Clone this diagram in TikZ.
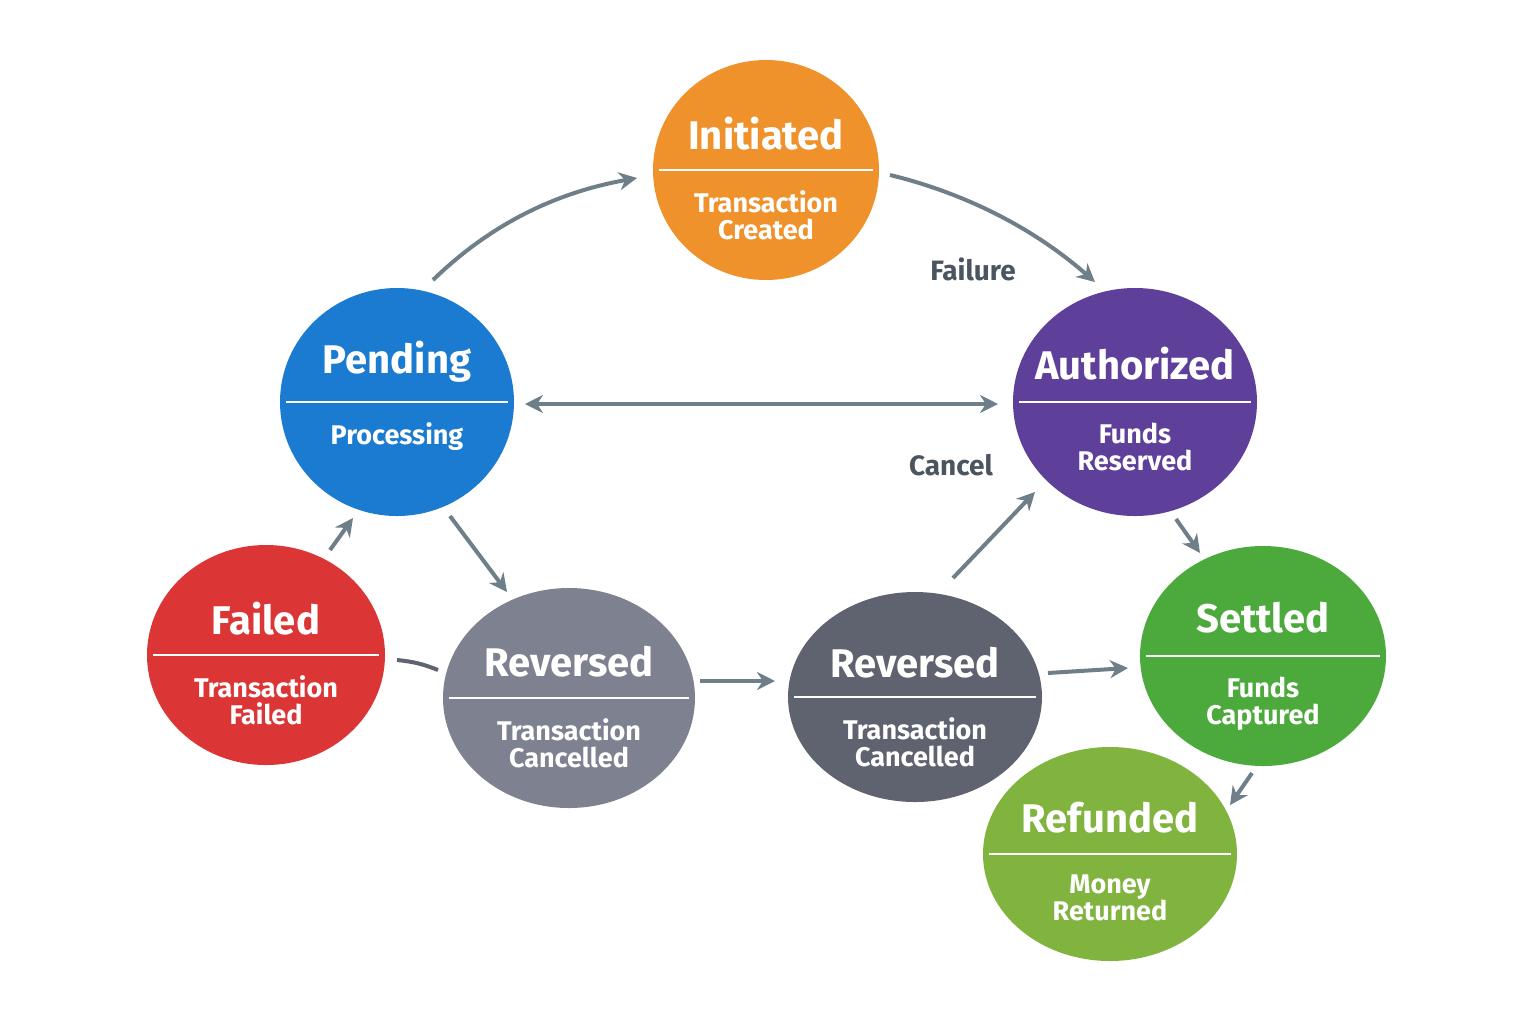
\documentclass[tikz,border=0pt]{standalone}
\usepackage{fontspec}
\setmainfont{Fira Sans}
\usetikzlibrary{shapes.geometric,arrows.meta}
\definecolor{cOr}{HTML}{F0922B}
\definecolor{cBl}{HTML}{1B7BD0}
\definecolor{cPu}{HTML}{5E3F9A}
\definecolor{cRe}{HTML}{DC3535}
\definecolor{cG1}{HTML}{7D8190}
\definecolor{cG2}{HTML}{5F636F}
\definecolor{cGr}{HTML}{4CAA3C}
\definecolor{cLg}{HTML}{80B43E}
\definecolor{cAr}{HTML}{6E7F8A}
\definecolor{cTx}{HTML}{4A5560}
\tikzset{
 st/.style={ellipse,inner sep=0pt,draw=none},
 ttl/.style={text=white,font=\fontsize{20}{22}\selectfont\bfseries},
 sub/.style={text=white,font=\fontsize{13.5}{15.5}\selectfont\bfseries,align=center},
 arr/.style={draw=cAr,line width=2pt,-{Stealth[length=9pt,width=9pt]}},
 lbl/.style={text=cTx,font=\fontsize{14}{16}\selectfont\bfseries}
}
\newcommand{\stnode}[9]{%
 \node[st,fill=#4,minimum width=#5pt,minimum height=#6pt] (#1) at (#2,#3) {};
 \node[ttl] (#1t) at (#2,#3-#9) {#7};
 \draw[white,line width=0.7pt] (#2-#5*0.95,#3) -- (#2+#5*0.95,#3);
 \node[sub,anchor=north] (#1s) at (#2,#3+14) {#8};
}
\begin{document}
\begin{tikzpicture}[x=0.5pt,y=-0.5pt]
\useasboundingbox[fill=white] (0,0) rectangle (1536,1024);
\stnode{ini}{766}{170}{cOr}{113}{110}{Initiated}{Transaction\\[-2pt]Created}{36}
\stnode{pen}{397}{402}{cBl}{117}{114}{Pending}{Processing}{40}
\stnode{aut}{1135}{402}{cPu}{122}{114}{Authorized}{Funds\\[-2pt]Reserved}{38}
\stnode{fai}{266}{655}{cRe}{119}{110}{Failed}{Transaction\\[-2pt]Failed}{36}
\stnode{rv1}{569}{698}{cG1}{126}{110}{Reversed}{Transaction\\[-2pt]Cancelled}{36}
\stnode{rv2}{915}{697}{cG2}{127}{105}{Reversed}{Transaction\\[-2pt]Cancelled}{34}
\stnode{set}{1263}{656}{cGr}{123}{110}{Settled}{Funds\\[-2pt]Captured}{38}
\stnode{ref}{1110}{854}{cLg}{127}{107}{Refunded}{Money\\[-2pt]Returned}{36}
% arrows
\coordinate (a1) at (433,280); \coordinate (a2) at (637,178);
\draw[arr] (a1) .. controls (500,215) and (570,190) .. (a2);
\coordinate (b1) at (890,175); \coordinate (b2) at (1095,282);
\draw[arr] (b1) .. controls (960,192) and (1030,225) .. (b2);
\coordinate (c1) at (525,404); \coordinate (c2) at (998,404);
\draw[arr,{Stealth[length=9pt,width=9pt]}-{Stealth[length=9pt,width=9pt]}] (c1) -- (c2);
\coordinate (d1) at (450,516); \coordinate (d2) at (507,592);
\draw[arr] (d1) -- (d2);
\coordinate (e1) at (330,550); \coordinate (e2) at (353,518);
\draw[arr] (e1) -- (e2);
\coordinate (f1) at (397,660); \coordinate (f2) at (438,670);
\draw[draw=cG2,line width=2pt] (f1) to[bend left=8] (f2);
\coordinate (g1) at (700,681); \coordinate (g2) at (775,681);
\draw[arr] (g1) -- (g2);
\coordinate (h1) at (953,578); \coordinate (h2) at (1035,492);
\draw[arr] (h1) -- (h2);
\coordinate (i1) at (1048,673); \coordinate (i2) at (1128,668);
\draw[arr] (i1) -- (i2);
\coordinate (j1) at (1176,519); \coordinate (j2) at (1200,553);
\draw[arr] (j1) -- (j2);
\coordinate (k1) at (1252,773); \coordinate (k2) at (1230,805);
\draw[arr] (k1) -- (k2);
\node[lbl] (fl) at (973,269) {Failure};
\node[lbl] (cl) at (951,465) {Cancel};
\end{tikzpicture}
\end{document}
